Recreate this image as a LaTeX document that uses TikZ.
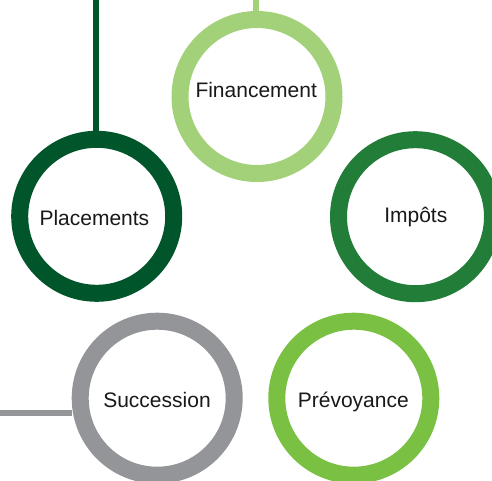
\documentclass[tikz,border=0pt]{standalone}
\usepackage{fontspec}
\setmainfont{Liberation Sans}
\definecolor{cfin}{HTML}{A3D17A}
\definecolor{cplc}{HTML}{00552B}
\definecolor{cimp}{HTML}{217D38}
\definecolor{csuc}{HTML}{939598}
\definecolor{cpre}{HTML}{7AC143}
\begin{document}
\begin{tikzpicture}[x=1pt,y=-1pt,
  ring/.style={circle,draw=#1,line width=17pt,fill=white,minimum size=154pt,inner sep=0pt},
  stem/.style={draw=#1,line width=6pt},
  lbl/.style={anchor=base,font=\fontsize{21}{25}\selectfont,text=black!90,inner sep=0pt}]
\useasboundingbox (0,0) rectangle (492,481);
\node[ring=cfin] (fin) at (257,96.5) {};
\node[ring=cplc] (plc) at (96.7,216.3) {};
\node[ring=cimp] (imp) at (415.5,216.7) {};
\node[ring=csuc] (suc) at (157.2,398.2) {};
\node[ring=cpre] (pre) at (353.8,398.2) {};
\coordinate (fintop) at (256.3,0);
\coordinate (plctop) at (96.2,0);
\coordinate (sucend) at (0,413);
\draw[stem=cfin] (fintop) -- (fintop |- fin.north);
\draw[stem=cplc] (plctop) -- (plctop |- plc.north);
\draw[stem=csuc] (sucend) -- (sucend -| suc.west);
\node[lbl] (tfin) at (256.2,97.7) {Financement};
\node[lbl] (tplc) at (94.4,225) {Placements};
\node[lbl] (timp) at (415.8,222.7) {Impôts};
\node[lbl] (tsuc) at (157,407.3) {Succession};
\node[lbl] (tpre) at (353.3,407.3) {Prévoyance};
\end{tikzpicture}
\end{document}
